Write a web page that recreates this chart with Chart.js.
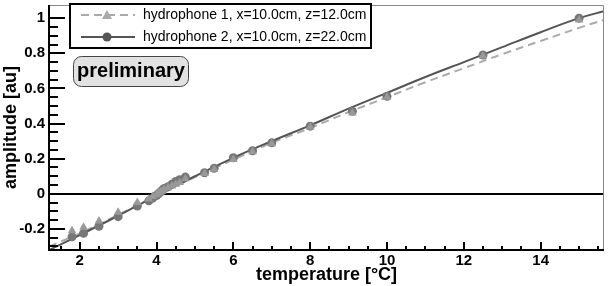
<!DOCTYPE html>
<html>
<head>
<meta charset="utf-8">
<script src="https://cdn.jsdelivr.net/npm/chart.js@4.4.1/dist/chart.umd.min.js"></script>
<style>
  html, body { margin: 0; padding: 0; background: #fff; }
  #wrap { width: 609px; height: 286px; }
</style>
</head>
<body>
<div id="wrap"><canvas id="chart" width="609" height="286"></canvas></div>
<script>
// measured points
const temps = [1.8, 2.1, 2.5, 3.0, 3.5, 3.8, 3.9, 4.0, 4.05, 4.1, 4.15, 4.2, 4.3, 4.4, 4.5, 4.6, 4.75, 5.25, 5.5, 6.0, 6.5, 7.0, 8.0, 9.1, 10.0, 12.5, 15.0];
const amp1 = [-0.21, -0.19, -0.155, -0.105, -0.05, -0.03, -0.015, -0.005, 0.005, 0.01, 0.015, 0.025, 0.035, 0.045, 0.055, 0.065, 0.085, 0.115, 0.14, 0.195, 0.24, 0.285, 0.38, 0.46, 0.55, 0.785, 0.99];
const amp2 = [-0.245, -0.225, -0.185, -0.13, -0.07, -0.04, -0.025, -0.01, 0.0, 0.01, 0.02, 0.03, 0.04, 0.055, 0.07, 0.08, 0.095, 0.12, 0.145, 0.205, 0.245, 0.29, 0.385, 0.47, 0.555, 0.79, 1.0];

// fit curves
const fitT = [1.2, 2, 3, 4, 5, 6, 7, 8, 9, 10, 11, 12, 13, 14, 15, 15.65];
const fit1 = [-0.30, -0.225, -0.12, -0.01, 0.095, 0.195, 0.29, 0.375, 0.465, 0.55, 0.635, 0.715, 0.795, 0.87, 0.945, 0.99];
const fit2 = [-0.32, -0.235, -0.125, -0.01, 0.10, 0.205, 0.30, 0.39, 0.485, 0.575, 0.665, 0.75, 0.835, 0.92, 1.0, 1.04];

const xTicks = [2, 4, 6, 8, 10, 12, 14];
const yTicks = [-0.2, 0, 0.2, 0.4, 0.6, 0.8, 1];
const legendLabels = ['hydrophone 1, x=10.0cm, z=12.0cm', 'hydrophone 2, x=10.0cm, z=22.0cm'];

const pts = (xs, ys) => xs.map((x, i) => ({ x: x, y: ys[i] }));

const decor = {
  id: 'decor',
  beforeDatasetsDraw(chart) {
    const ctx = chart.ctx, a = chart.chartArea, y = chart.scales.y;
    ctx.save();
    ctx.strokeStyle = '#000';
    ctx.lineWidth = 2;
    const y0 = Math.round(y.getPixelForValue(0));
    ctx.beginPath();
    ctx.moveTo(a.left, y0);
    ctx.lineTo(a.right, y0);
    ctx.stroke();
    ctx.restore();
  },
  afterDraw(chart) {
    const ctx = chart.ctx, a = chart.chartArea;
    const xs = chart.scales.x, ys = chart.scales.y;
    ctx.save();
    // top / right frame
    ctx.strokeStyle = '#888';
    ctx.lineWidth = 1;
    ctx.beginPath();
    ctx.moveTo(a.left, a.top + 0.5);
    ctx.lineTo(a.right - 0.5, a.top + 0.5);
    ctx.lineTo(a.right - 0.5, a.bottom);
    ctx.stroke();
    // left / bottom axes
    ctx.strokeStyle = '#000';
    ctx.lineWidth = 2;
    ctx.beginPath();
    ctx.moveTo(a.left, a.top);
    ctx.lineTo(a.left, a.bottom);
    ctx.lineTo(a.right, a.bottom);
    ctx.stroke();
    // y ticks
    ctx.lineWidth = 2;
    for (let v = -0.3; v <= 1.05; v += 0.05) {
      const val = Math.round(v * 100) / 100;
      const p = Math.round(ys.getPixelForValue(val));
      if (p < a.top || p > a.bottom) continue;
      const major = Math.abs(Math.round(val * 100) % 20) === 0;
      ctx.beginPath();
      ctx.moveTo(a.left, p);
      ctx.lineTo(a.left + (major ? 16 : 9), p);
      ctx.stroke();
    }
    // x ticks
    for (let v = 1.5; v <= 15.5; v += 0.5) {
      const p = Math.round(xs.getPixelForValue(v));
      const major = v % 2 === 0;
      ctx.beginPath();
      ctx.moveTo(p, a.bottom);
      ctx.lineTo(p, a.bottom - (major ? 8 : 4));
      ctx.stroke();
    }
    // legend
    ctx.fillStyle = '#fff';
    ctx.fillRect(70, 4, 301, 44);
    ctx.strokeStyle = '#000';
    ctx.lineWidth = 2;
    ctx.strokeRect(70, 4, 301, 44);
    ctx.lineWidth = 2;
    ctx.strokeStyle = '#aaa';
    ctx.setLineDash([8, 5]);
    ctx.beginPath(); ctx.moveTo(81, 15); ctx.lineTo(135, 15); ctx.stroke();
    ctx.setLineDash([]);
    ctx.fillStyle = '#aaa';
    ctx.beginPath(); ctx.moveTo(107, 10); ctx.lineTo(112, 19); ctx.lineTo(102, 19); ctx.closePath(); ctx.fill();
    ctx.strokeStyle = '#555';
    ctx.beginPath(); ctx.moveTo(81, 37); ctx.lineTo(135, 37); ctx.stroke();
    ctx.fillStyle = '#555';
    ctx.beginPath(); ctx.arc(107, 37, 4.5, 0, Math.PI * 2); ctx.fill();
    ctx.fillStyle = '#000';
    ctx.font = '14px "Liberation Sans", Arial, sans-serif';
    ctx.textBaseline = 'middle';
    ctx.textAlign = 'left';
    ctx.fillText(legendLabels[0], 143, 15);
    ctx.fillText(legendLabels[1], 143, 37);
    // preliminary badge
    ctx.fillStyle = '#e2e2e2';
    ctx.strokeStyle = '#444';
    ctx.lineWidth = 1;
    ctx.beginPath();
    ctx.roundRect(73.5, 56.5, 115, 30, 8);
    ctx.fill();
    ctx.stroke();
    ctx.fillStyle = '#000';
    ctx.font = 'bold 20px "Liberation Sans", Arial, sans-serif';
    ctx.textAlign = 'center';
    ctx.fillText('preliminary', 131, 71);
    ctx.restore();
  }
};

const tickFont = { family: '"Liberation Sans", Arial, sans-serif', size: 15, weight: 'bold' };
const titleFont = { family: '"Liberation Sans", Arial, sans-serif', size: 18, weight: 'bold' };

new Chart(document.getElementById('chart'), {
  type: 'scatter',
  data: {
    datasets: [
      {
        label: 'fit 2',
        data: pts(fitT, fit2),
        showLine: true,
        borderColor: '#555',
        borderWidth: 2,
        pointRadius: 0,
        tension: 0.4,
        order: 3
      },
      {
        label: 'fit 1',
        data: pts(fitT, fit1),
        showLine: true,
        borderColor: '#aaa',
        borderWidth: 2,
        borderDash: [8, 5],
        pointRadius: 0,
        tension: 0.4,
        order: 4
      },
      {
        label: legendLabels[1],
        data: pts(temps, amp2),
        pointStyle: 'circle',
        pointRadius: 4.5,
        backgroundColor: '#777',
        borderWidth: 0,
        order: 2
      },
      {
        label: legendLabels[0],
        data: pts(temps, amp1),
        pointStyle: 'triangle',
        pointRadius: 5,
        backgroundColor: '#999',
        borderWidth: 0,
        order: 1
      }
    ]
  },
  options: {
    responsive: false,
    animation: false,
    events: [],
    layout: { padding: { top: 2, right: 3, left: 0, bottom: 0 } },
    plugins: { legend: { display: false }, tooltip: { enabled: false } },
    scales: {
      x: {
        type: 'linear',
        min: 1.2,
        max: 15.65,
        afterBuildTicks: s => { s.ticks = xTicks.map(v => ({ value: v })); },
        afterFit: s => { s.height = 36; s.paddingLeft = 0; s.paddingRight = 0; },
        grid: { display: false, drawTicks: false },
        border: { display: false },
        ticks: { color: '#000', padding: 2, font: tickFont, maxRotation: 0 },
        title: {
          display: true,
          text: 'temperature [°C]',
          color: '#000',
          padding: 0,
          font: titleFont
        }
      },
      y: {
        min: -0.32,
        max: 1.075,
        afterBuildTicks: s => { s.ticks = yTicks.map(v => ({ value: v })); },
        afterFit: s => { s.width = 49; s.paddingTop = 0; s.paddingBottom = 0; },
        grid: { display: false, drawTicks: false },
        border: { display: false },
        ticks: {
          color: '#000',
          padding: 4,
          font: tickFont,
          callback: v => String(Math.round(v * 10) / 10)
        },
        title: {
          display: true,
          text: 'amplitude [au]',
          color: '#000',
          padding: 0,
          font: titleFont
        }
      }
    }
  },
  plugins: [decor]
});
</script>
</body>
</html>
